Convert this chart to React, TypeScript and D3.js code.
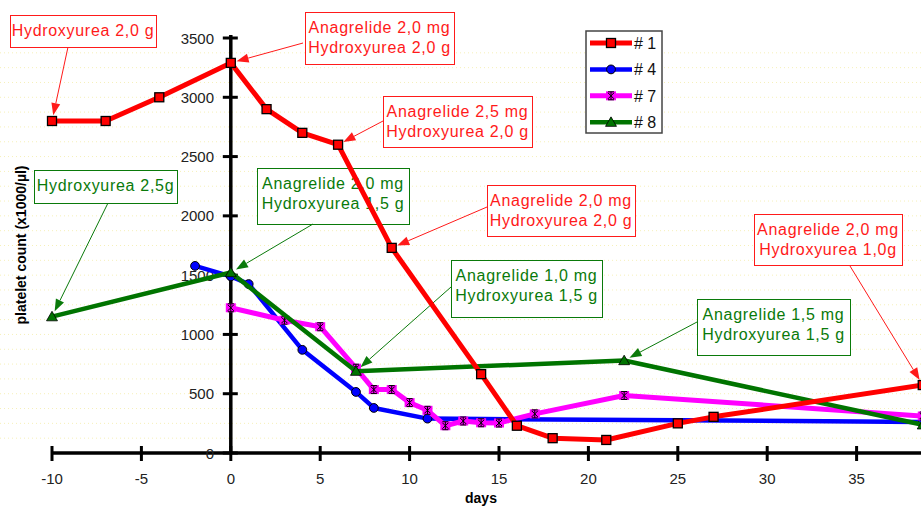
import { useEffect, useRef } from "react";
import * as d3 from "d3";

// days / platelet counts (x1000/µl)
const days1 = [-10, -7, -4, 0, 2, 4, 6, 9, 14, 16, 18, 21, 25, 27, 38.7];
const count1 = [2800, 2800, 3000, 3290, 2900, 2700, 2600, 1730, 665, 230, 125, 110, 250, 305, 573];

const days4 = [-2, 0, 1, 4, 7, 8, 11, 38.7];
const count4 = [1578, 1490, 1425, 870, 515, 380, 290, 262];

const days7 = [0, 3, 5, 7, 8, 9, 10, 11, 12, 13, 14, 15, 17, 22, 38.7];
const count7 = [1225, 1120, 1065, 715, 535, 535, 425, 360, 230, 270, 255, 253, 330, 485, 312];

const days8 = [-10, 0, 7, 22, 38.7];
const count8 = [1150, 1522, 690, 780, 238];

const xTicks = [-10, -5, 0, 5, 10, 15, 20, 25, 30, 35];
const yTicks = [0, 500, 1000, 1500, 2000, 2500, 3000, 3500];

const seriesNames = ["# 1", "# 4", "# 7", "# 8"];
const seriesColors = ["#ff0000", "#0000ff", "#ff00ff", "#007400"];

// annotation texts, the series they point to and the day of the pointed value
const noteLines = [
  ["Hydroxyurea 2,0 g"],
  ["Anagrelide 2,0 mg", "Hydroxyurea 2,0 g"],
  ["Anagrelide 2,5 mg", "Hydroxyurea 2,0 g"],
  ["Anagrelide 2,0 mg", "Hydroxyurea 2,0 g"],
  ["Anagrelide 2,0 mg", "Hydroxyurea 1,0g"],
  ["Hydroxyurea 2,5g"],
  ["Anagrelide 2,0 mg", "Hydroxyurea 1,5 g"],
  ["Anagrelide 1,0 mg", "Hydroxyurea 1,5 g"],
  ["Anagrelide 1,5 mg", "Hydroxyurea 1,5 g"],
];
const noteSeries = [0, 0, 0, 0, 0, 3, 3, 3, 3];
const noteDay = [-10, 0, 6, 9, 38.7, -10, 0, 7, 22];

// box layout: x, y, w, h, arrow start x, y
const noteBoxes = [
  [10, 15, 146, 32, 68, 47],
  [305, 12, 149, 52, 303, 43],
  [383, 96, 149, 51, 383, 121],
  [487, 185, 148, 51, 487, 207],
  [754, 214, 148, 51, 850, 266],
  [34, 170, 143, 33, 108, 203],
  [257, 168, 152, 56, 313, 224],
  [451, 260, 151, 57, 451, 287],
  [697, 299, 153, 56, 697, 322],
];

const W = 921;
const H = 508;

export default function App() {
  const ref = useRef<SVGSVGElement>(null);

  useEffect(() => {
    const svg = d3.select(ref.current);
    svg.selectAll("*").remove();

    const x = d3.scaleLinear().domain([-10, 40]).range([52, 946]);
    const y = d3.scaleLinear().domain([0, 3500]).range([453, 38]);
    const font = "'Liberation Sans', Arial, sans-serif";

    svg.append("rect").attr("width", W).attr("height", H).attr("fill", "#fff");

    // faint dotted background
    svg.append("g")
      .selectAll("line")
      .data(d3.range(125, 3500, 125))
      .join("line")
      .attr("x1", 0).attr("x2", W)
      .attr("y1", d => y(d)).attr("y2", d => y(d))
      .attr("stroke", "#f6f0b8")
      .attr("stroke-width", 1)
      .attr("stroke-dasharray", "1 3");

    const allDays = [days1, days4, days7, days8];
    const allCounts = [count1, count4, count7, count8];

    // annotation boxes (behind the lines)
    const notes = svg.append("g");
    noteLines.forEach((lines, i) => {
      const [bx, by, bw, bh, ax, ay] = noteBoxes[i];
      const s = noteSeries[i];
      const col = s === 0 ? "#ff1a1a" : "#0a7a0a";
      const g = notes.append("g");
      g.append("rect")
        .attr("x", bx + 0.5).attr("y", by + 0.5)
        .attr("width", bw).attr("height", bh)
        .attr("fill", "#fff")
        .attr("stroke", col).attr("stroke-width", 1);
      lines.forEach((t, k) => {
        g.append("text")
          .attr("x", bx + bw / 2)
          .attr("y", by + 21 + k * 20)
          .attr("text-anchor", "middle")
          .attr("font-family", font)
          .attr("font-size", 16)
          .attr("letter-spacing", 0.7)
          .attr("fill", col)
          .text(t);
      });

      // arrow to the data point
      const idx = allDays[s].indexOf(noteDay[i]);
      const px = x(allDays[s][idx]);
      const py = y(allCounts[s][idx]);
      const dx = px - ax;
      const dy = py - ay;
      const len = Math.hypot(dx, dy);
      const ux = dx / len;
      const uy = dy / len;
      const tx = px - ux * 6;
      const ty = py - uy * 6;
      const hl = 12;
      const hw = 4.5;
      const bxp = tx - ux * hl;
      const byp = ty - uy * hl;
      g.append("line")
        .attr("x1", ax).attr("y1", ay)
        .attr("x2", bxp).attr("y2", byp)
        .attr("stroke", col).attr("stroke-width", 1);
      g.append("path")
        .attr("d", `M${tx},${ty}L${bxp - uy * hw},${byp + ux * hw}L${bxp + uy * hw},${byp - ux * hw}Z`)
        .attr("fill", col);
    });

    // axes
    const axes = svg.append("g").attr("stroke", "#000");
    axes.append("line")
      .attr("x1", x(-10) - 1).attr("x2", W)
      .attr("y1", y(0)).attr("y2", y(0))
      .attr("stroke-width", 3.5);
    axes.append("line")
      .attr("x1", x(0)).attr("x2", x(0))
      .attr("y1", y(3500) - 3).attr("y2", y(0))
      .attr("stroke-width", 3.5);
    axes.selectAll(".xt")
      .data(xTicks)
      .join("line")
      .attr("x1", d => x(d)).attr("x2", d => x(d))
      .attr("y1", y(0) - 7).attr("y2", y(0) + 8)
      .attr("stroke-width", 3);
    axes.selectAll(".yt")
      .data(yTicks)
      .join("line")
      .attr("x1", x(0) - 8).attr("x2", x(0) + 7)
      .attr("y1", d => y(d)).attr("y2", d => y(d))
      .attr("stroke-width", 3);

    svg.append("g")
      .selectAll("text")
      .data(xTicks)
      .join("text")
      .attr("x", d => x(d))
      .attr("y", 484)
      .attr("text-anchor", "middle")
      .attr("font-family", font)
      .attr("font-size", 15)
      .attr("fill", "#222")
      .text(d => d);

    svg.append("g")
      .selectAll("text")
      .data(yTicks)
      .join("text")
      .attr("x", 214)
      .attr("y", d => y(d) + 5.5)
      .attr("text-anchor", "end")
      .attr("font-family", font)
      .attr("font-size", 15)
      .attr("fill", "#222")
      .text(d => d);

    svg.append("text")
      .attr("x", 481).attr("y", 503)
      .attr("text-anchor", "middle")
      .attr("font-family", font)
      .attr("font-size", 14)
      .attr("font-weight", "bold")
      .text("days");

    svg.append("text")
      .attr("transform", "translate(26,245) rotate(-90)")
      .attr("text-anchor", "middle")
      .attr("font-family", font)
      .attr("font-size", 14)
      .attr("font-weight", "bold")
      .text("platelet count (x1000/µl)");

    // markers
    const drawMarker = (g: any, s: number, cx: number, cy: number) => {
      if (s === 0) {
        g.append("rect")
          .attr("x", cx - 4.5).attr("y", cy - 4.5)
          .attr("width", 9).attr("height", 9)
          .attr("fill", seriesColors[0])
          .attr("stroke", "#000").attr("stroke-width", 1.3);
      } else if (s === 1) {
        g.append("circle")
          .attr("cx", cx).attr("cy", cy).attr("r", 4.4)
          .attr("fill", seriesColors[1])
          .attr("stroke", "#000").attr("stroke-width", 1);
      } else if (s === 2) {
        g.append("rect")
          .attr("x", cx - 5).attr("y", cy - 4.5)
          .attr("width", 10).attr("height", 9)
          .attr("fill", seriesColors[2]);
        g.append("path")
          .attr("d", `M${cx - 3},${cy - 3}L${cx + 3},${cy + 3}M${cx + 3},${cy - 3}L${cx - 3},${cy + 3}M${cx},${cy - 4}V${cy + 4}M${cx - 3},${cy - 4}H${cx + 3}M${cx - 3},${cy + 4}H${cx + 3}`)
          .attr("stroke", "#000").attr("stroke-width", 1).attr("fill", "none");
      } else {
        g.append("path")
          .attr("d", d3.symbol(d3.symbolTriangle, 52)())
          .attr("transform", `translate(${cx},${cy + 1})`)
          .attr("fill", seriesColors[3])
          .attr("stroke", "#000").attr("stroke-width", 0.8);
      }
    };

    const widths = [5, 4.5, 5, 4.5];
    const order = [1, 2, 3, 0];
    const line = d3.line<[number, number]>().x(d => x(d[0])).y(d => y(d[1]));
    order.forEach(s => {
      const pts: [number, number][] = allDays[s].map((d, i) => [d, allCounts[s][i]]);
      const g = svg.append("g");
      g.append("path")
        .attr("d", line(pts))
        .attr("fill", "none")
        .attr("stroke", seriesColors[s])
        .attr("stroke-width", widths[s])
        .attr("stroke-linejoin", "round");
      pts.forEach(p => drawMarker(g, s, x(p[0]), y(p[1])));
    });

    // legend
    const lg = svg.append("g");
    lg.append("rect")
      .attr("x", 586).attr("y", 31)
      .attr("width", 76).attr("height", 102)
      .attr("fill", "#fff")
      .attr("stroke", "#444").attr("stroke-width", 1.5);
    seriesNames.forEach((name, s) => {
      const ry = 43 + s * 26.4;
      lg.append("line")
        .attr("x1", 590).attr("x2", 632)
        .attr("y1", ry).attr("y2", ry)
        .attr("stroke", seriesColors[s])
        .attr("stroke-width", widths[s]);
      drawMarker(lg, s, 611, ry);
      lg.append("text")
        .attr("x", 634).attr("y", ry + 6)
        .attr("font-family", font)
        .attr("font-size", 16)
        .attr("fill", "#111")
        .text(name);
    });
  }, []);

  return (
    <svg
      ref={ref}
      width={W}
      height={H}
      style={{ position: "absolute", left: 0, top: 0, display: "block" }}
    />
  );
}
